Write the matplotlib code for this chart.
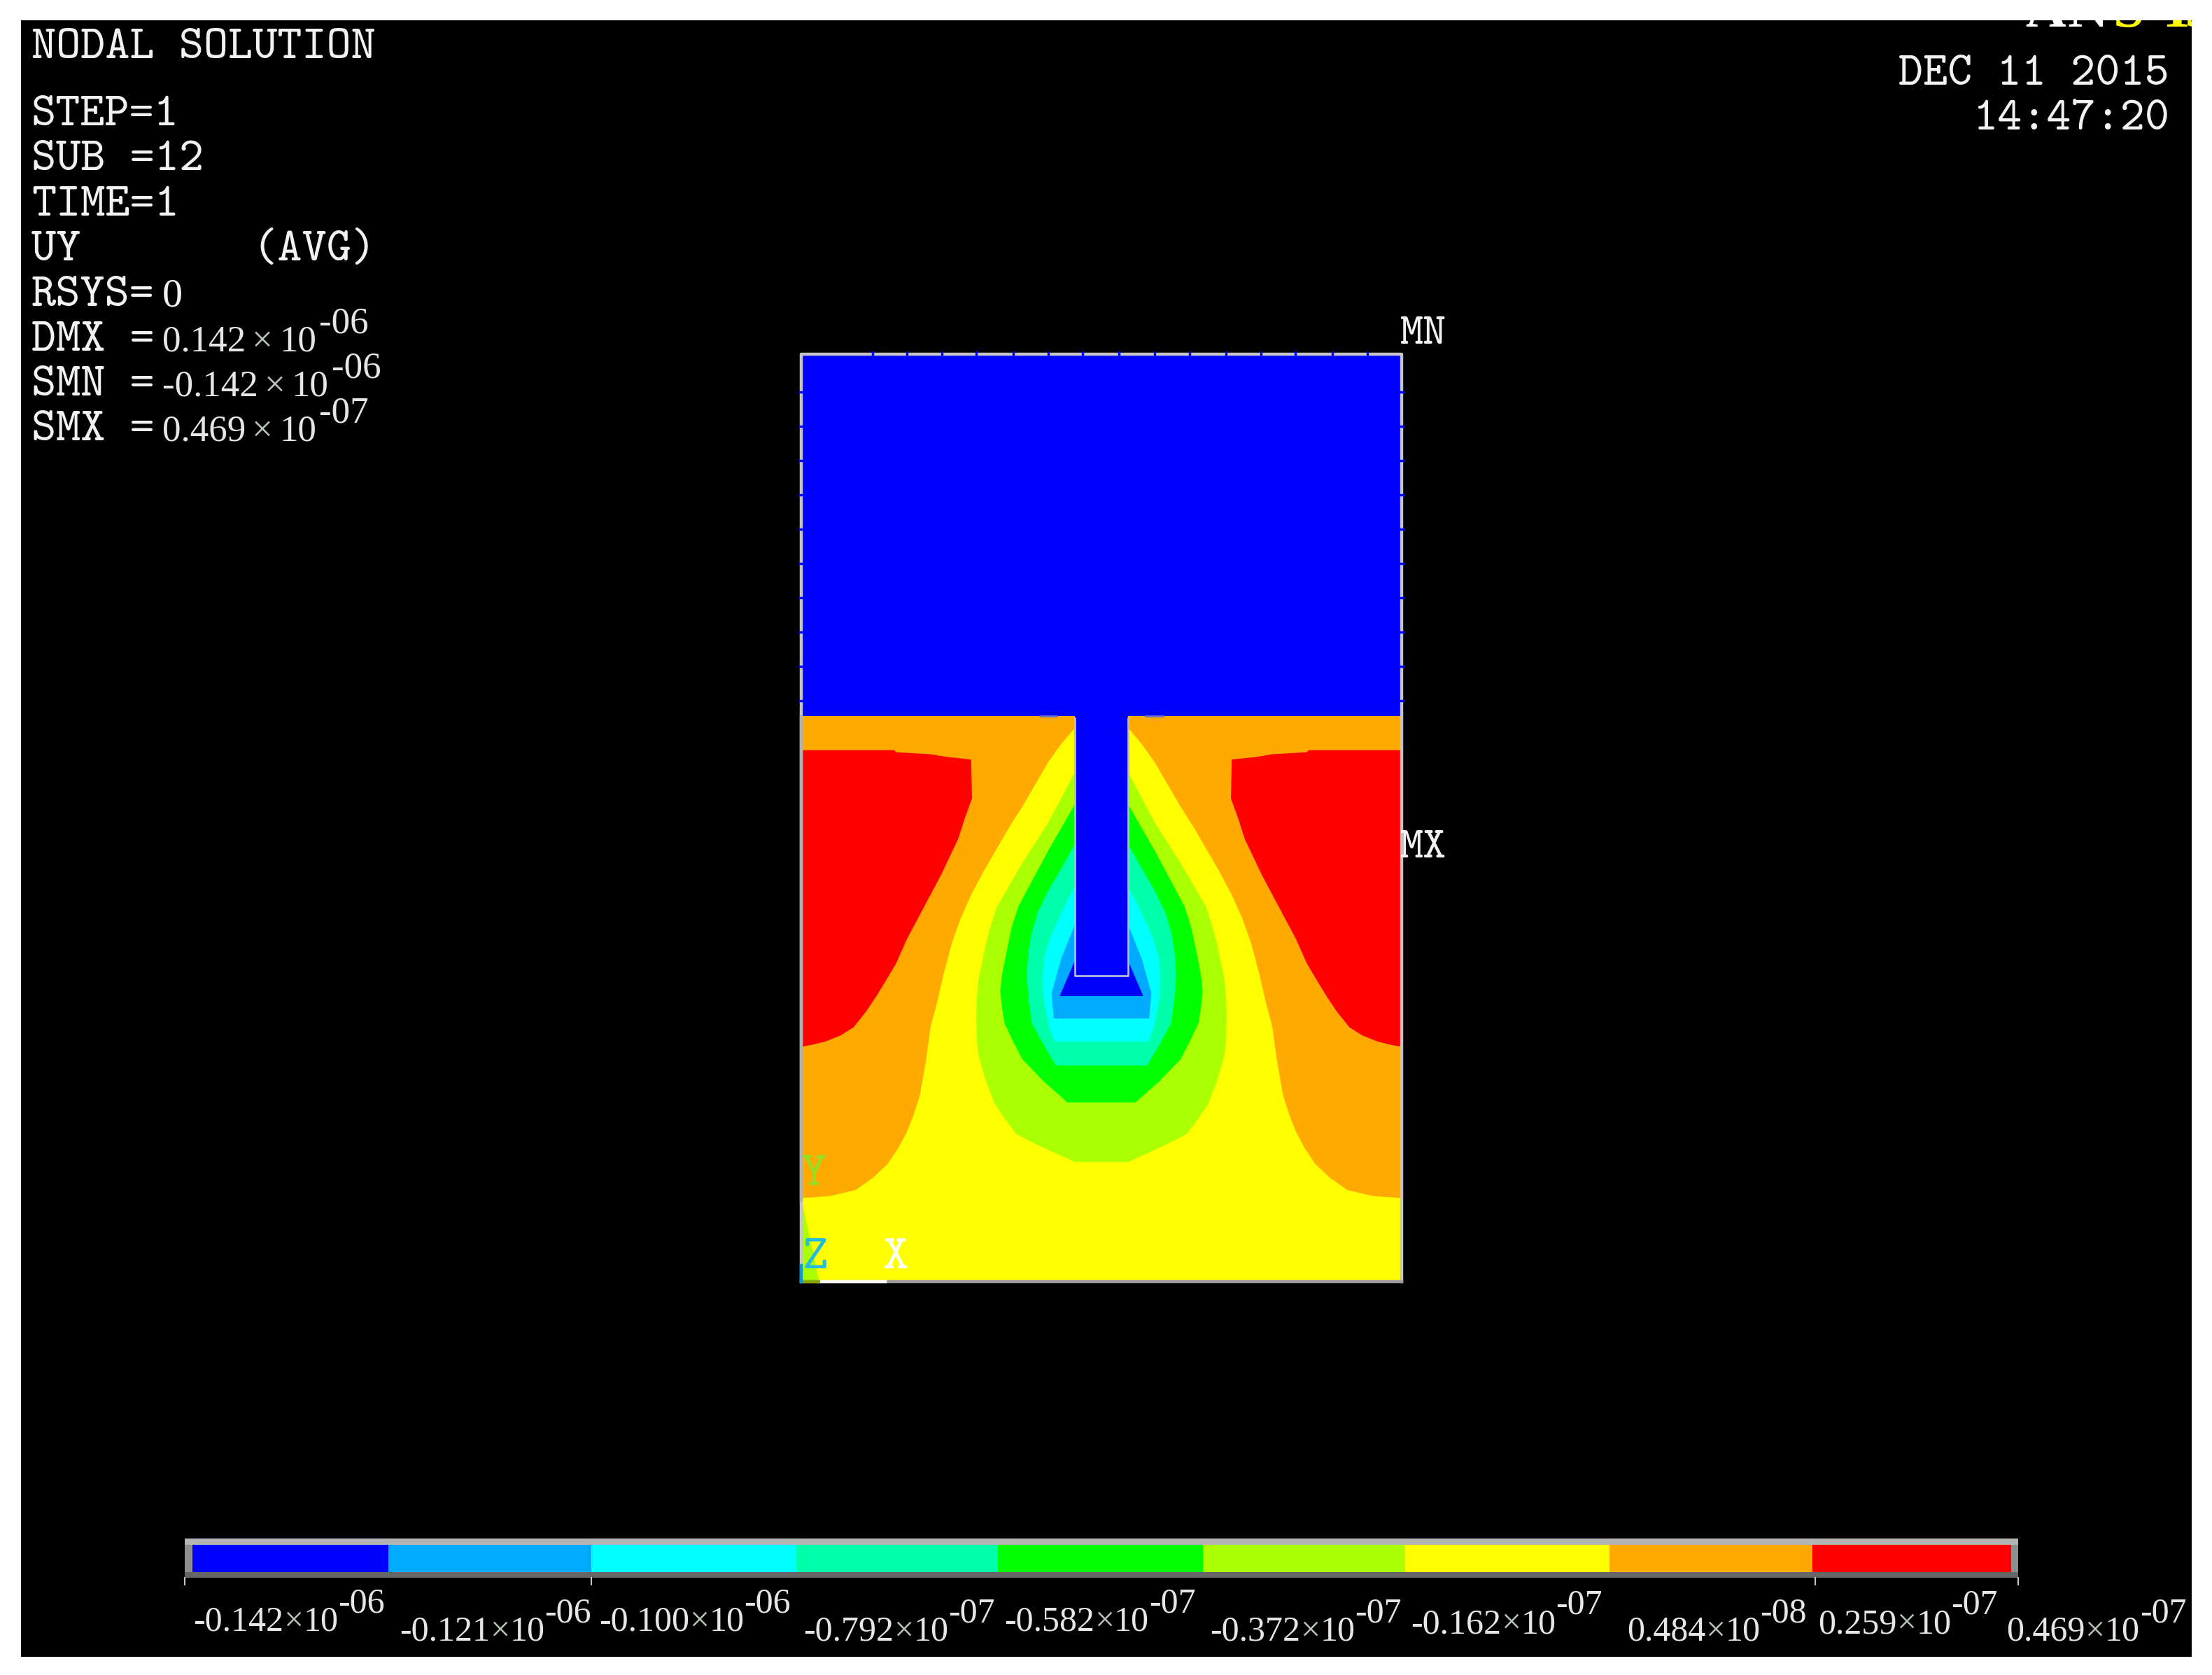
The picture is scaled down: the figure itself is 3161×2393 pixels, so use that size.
import matplotlib
matplotlib.use("Agg")
import matplotlib.pyplot as plt
from matplotlib.patches import Rectangle

# ---- result bands: left half outlines in model units, right half is mirrored ----
AXIS2 = 1549.0   # twice the symmetry line
band_colors = ["#0000FF", "#00AAFF", "#00FFFF", "#00FFAA", "#00FF00",
               "#AAFF00", "#FFFF00", "#FFAA00", "#FF0000"]

orange_x = [73, 712, 712, 680, 650, 620, 590, 560, 530, 500, 470, 445, 425, 405, 390, 375,
            365, 350, 335, 320, 300, 275, 240, 200, 140, 73]
orange_y = [75, 75, 105, 145, 190, 245, 300, 350, 405, 460, 520, 580, 640, 720, 790, 850,
            930, 1020, 1070, 1110, 1150, 1190, 1225, 1255, 1270, 1275]
red_x = [75, 290, 295, 375, 415, 470, 472, 455, 440, 420, 400, 370, 345, 320, 295, 270,
         250, 225, 195, 165, 130, 100, 75]
red_y = [160, 160, 165, 170, 177, 183, 280, 330, 380, 425, 470, 530, 580, 630, 690, 735,
         770, 810, 850, 870, 885, 893, 898]
lime_x = [712, 680, 650, 620, 590, 560, 530, 515, 505, 495, 487, 483, 482, 483, 487, 505,
          525, 550, 575, 610, 650, 712]
lime_y = [215, 280, 340, 390, 440, 495, 550, 600, 640, 690, 730, 780, 830, 875, 920, 985,
          1040, 1080, 1115, 1135, 1155, 1185]
green_x = [712, 680, 650, 615, 580, 565, 553, 542, 538, 542, 548, 568, 590, 640, 695]
green_y = [295, 355, 410, 480, 550, 600, 660, 720, 760, 800, 840, 885, 930, 985, 1037]
spring_x = [712, 680, 650, 625, 610, 603, 600, 604, 612, 640, 668]
spring_y = [395, 455, 510, 565, 620, 670, 720, 780, 840, 895, 945]
cyan_x = [712, 690, 670, 652, 640, 637, 638, 652, 665]
cyan_y = [500, 545, 590, 635, 680, 725, 770, 850, 885]
sky_x = [712, 680, 658, 663]
sky_y = [595, 680, 765, 828]
blue_x = [712, 677]
blue_y = [685, 772]
sliver_x = [73, 115, 73]
sliver_y = [1275, 1483, 1483]

# ---- text ----
header_lines = ["NODAL SOLUTION", "STEP=1", "SUB =12", "TIME=1", "UY       (AVG)", "RSYS="]
header_base = [83, 179, 243, 308, 372, 437]
sci_names = ["DMX =", "SMN =", "SMX ="]
sci_base = [501, 565, 629]
sci_mant = ["0.142", "-0.142", "0.469"]
sci_exp = ["-06", "-06", "-07"]
date_lines = ["DEC 11 2015", "14:47:20"]
date_base = [121, 185]

leg_mant = ["-0.142", "-0.121", "-0.100", "-0.792", "-0.582",
            "-0.372", "-0.162", "0.484", "0.259", "0.469"]
leg_exp = ["-06", "-06", "-06", "-07", "-07", "-07", "-07", "-08", "-07", "-07"]
leg_x = [276, 571, 856, 1148, 1435, 1729, 2016, 2325, 2598, 2867]
leg_base = [2330, 2344, 2330, 2344, 2330, 2344, 2333, 2344, 2333, 2344]
seg_edges = [275, 555, 845, 1138, 1426, 1719, 2008, 2300, 2590, 2874]
bar_ticks = [264, 845, 2594, 2884]

edge_gaps = [1247, 1296, 1346, 1395, 1448, 1498, 1547, 1599, 1650, 1700, 1752, 1802, 1851, 1904, 1954]
side_gaps = [560, 609, 658, 707, 756, 805, 854, 903, 952, 1001]

W, H = 3161, 2393
MONO = "cmtt10"
SERIF = "Liberation Serif"
PT = 0.72  # px -> pt at dpi 100

fig = plt.figure(figsize=(W / 100, H / 100), dpi=100, facecolor="white")
ax = fig.add_axes([0, 0, 1, 1])
ax.set_xlim(0, W); ax.set_ylim(H, 0); ax.axis("off")
ax.add_patch(Rectangle((30, 29), 3102, 2338, fc="black", ec="none", zorder=0))

# model view
bx0, bx1, by0, by1 = 1145, 2003, 506, 1831
mod = fig.add_axes([bx0 / W, 1 - by1 / H, (bx1 - bx0) / W, (by1 - by0) / H])
mod.set_xlim(73, 1476); mod.set_ylim(1483, -826); mod.axis("off")
mod.patch.set_alpha(0)

def fill_rect(x0, x1, y0, y1, c, z):
    mod.fill([x0, x1, x1, x0], [y0, y0, y1, y1], color=c, lw=0, zorder=z)

def both(xs, ys, c, z):
    mod.fill(xs, ys, color=c, lw=0, zorder=z)
    mod.fill([AXIS2 - x for x in xs], ys, color=c, lw=0, zorder=z)

def drop(xs, ys, c, z):
    # closed outline through the left half and back up the mirrored right half
    px = list(xs) + [AXIS2 - x for x in reversed(xs)]
    py = list(ys) + list(reversed(ys))
    mod.fill(px, py, color=c, lw=0, zorder=z)

fill_rect(73, 1476, 75, 1483, band_colors[6], 1)
both(orange_x, orange_y, band_colors[7], 2)
both(red_x, red_y, band_colors[8], 3)
mod.fill(sliver_x, sliver_y, color=band_colors[5], lw=0, zorder=3)
drop(lime_x, lime_y, band_colors[5], 4)
drop(green_x, green_y, band_colors[4], 5)
drop(spring_x, spring_y, band_colors[3], 6)
drop(cyan_x, cyan_y, band_colors[2], 7)
drop(sky_x, sky_y, band_colors[1], 8)
drop(blue_x, blue_y, band_colors[0], 9)
fill_rect(712, 837, 75, 722, band_colors[0], 10)
fill_rect(73, 1476, -826, 75, band_colors[0], 11)

# outlines
GR = "#c4c4c4"
mod.plot([712, 712, 837, 837], [80, 722, 722, 80], color="#b8b8d8", lw=2.0, zorder=12)
mod.plot([633, 670], [75, 75], color="#7070c8", lw=2.0, zorder=12)
mod.plot([878, 918], [75, 75], color="#7070c8", lw=2.0, zorder=12)
ax2 = fig.add_axes([0, 0, 1, 1], label="overlay")
ax2.set_xlim(0, W); ax2.set_ylim(H, 0); ax2.axis("off"); ax2.patch.set_alpha(0)
ax2.plot([bx0, bx0, bx1, bx1], [by1, by0, by0, by1], color=GR, lw=3.2, zorder=5)
ax2.plot([bx0, bx1], [by1, by1], color="#9a9aa0", lw=3.2, zorder=5)
ax2.plot([bx0 + 25, bx0 + 120], [by1, by1], color="white", lw=3.2, zorder=6)
ax2.plot([bx0, bx0 + 25], [by1, by1], color="#88aa00", lw=3.2, zorder=6)
ax2.plot([bx0, bx0], [1808, by1], color="#0099dd", lw=3.2, zorder=6)
ax2.plot([bx0, bx0], [1023, 1715], color="#b0b0b0", lw=3.2, zorder=5)
for g in edge_gaps:
    ax2.plot([g, g], [503, 509], color="#0000FF", lw=2.4, zorder=7)
for g in side_gaps:
    ax2.plot([bx0 - 2, bx0 + 2], [g, g], color="#0000FF", lw=2.4, zorder=7)
    ax2.plot([bx1 - 2, bx1 + 2], [g, g], color="#0000FF", lw=2.4, zorder=7)

# legend bar
ax2.add_patch(Rectangle((264, 2198), 2620, 56, fc="#8e8e8e", ec="none", zorder=3))
ax2.add_patch(Rectangle((264, 2198), 2620, 9, fc="#b4b4b4", ec="none", zorder=3))
ax2.add_patch(Rectangle((264, 2246), 2620, 8, fc="#666666", ec="none", zorder=3))
for i, c in enumerate(band_colors):
    ax2.add_patch(Rectangle((seg_edges[i], 2207), seg_edges[i + 1] - seg_edges[i], 39,
                            fc=c, ec="none", zorder=4))
for t in bar_ticks:
    ax2.plot([t, t], [2254, 2264], color="#cfcfcf", lw=1.4, zorder=4)

def txt(x, y, s, px=46.0, family=MONO, color="#f2f2f2", ha="left", **kw):
    return ax2.text(x, y, s, fontsize=px * PT, family=family, color=color,
                    ha=ha, va="baseline", zorder=9, **kw)

rend = fig.canvas.get_renderer()

def right_of(t):
    return ax2.transData.inverted().transform(t.get_window_extent(rend))[1][0]

def sci(x, y, mant, exp, px, up, gap):
    t = txt(x, y, mant, px=px, family=SERIF, color="#e6e6e6")
    xx = right_of(t) + gap
    t = txt(xx, y, "\u00d7", px=px, family=SERIF, color="#b8c4b8")
    xx = right_of(t) + gap
    t = txt(xx, y, "10", px=px, family=SERIF, color="#e6e6e6")
    xx = right_of(t) + gap / 2
    txt(xx, y - up, exp, px=px, family=SERIF, color="#e6e6e6")

MONO_PX = 67
for s, b in zip(header_lines, header_base):
    txt(45, b, s, px=MONO_PX)
txt(232, 437, "0", px=58, family=SERIF)
for s, b, m, e in zip(sci_names, sci_base, sci_mant, sci_exp):
    txt(45, b, s, px=MONO_PX)
    sci(232, b + 1, m, e, 53, 26, 9)
for s, b in zip(date_lines, date_base):
    txt(3100, b, s, px=MONO_PX, ha="right")

for m, e, x, b in zip(leg_mant, leg_exp, leg_x, leg_base):
    sci(x, b, m, e, 50, 27, 0)

txt(2000, 491, "MN", px=63)
txt(2000, 1225, "MX", px=63)
txt(1145, 1693, "Y", px=70, color="#99dd22")
txt(1147, 1812, "Z", px=70, color="#22bbdd")
txt(1261, 1812, "X", px=70, color="white")

# clipped logo at the top right
logo = [("A", 2894, "white"), ("N", 2955, "white"), ("S", 3020, "#FFFF00"),
        ("Y", 3082, "#FFFF00"), ("S", 3122, "#FFFF00")]
for ch, x, c in logo:
    t = ax2.text(x, 38, ch, fontsize=80 * PT, family=SERIF, weight="bold", color=c,
                 ha="left", va="baseline", zorder=9)
    t.set_clip_path(Rectangle((30, 29), 3102, 2338, transform=ax2.transData))
    t.set_clip_on(True)

fig.savefig("out.png", dpi=100, facecolor="white")
